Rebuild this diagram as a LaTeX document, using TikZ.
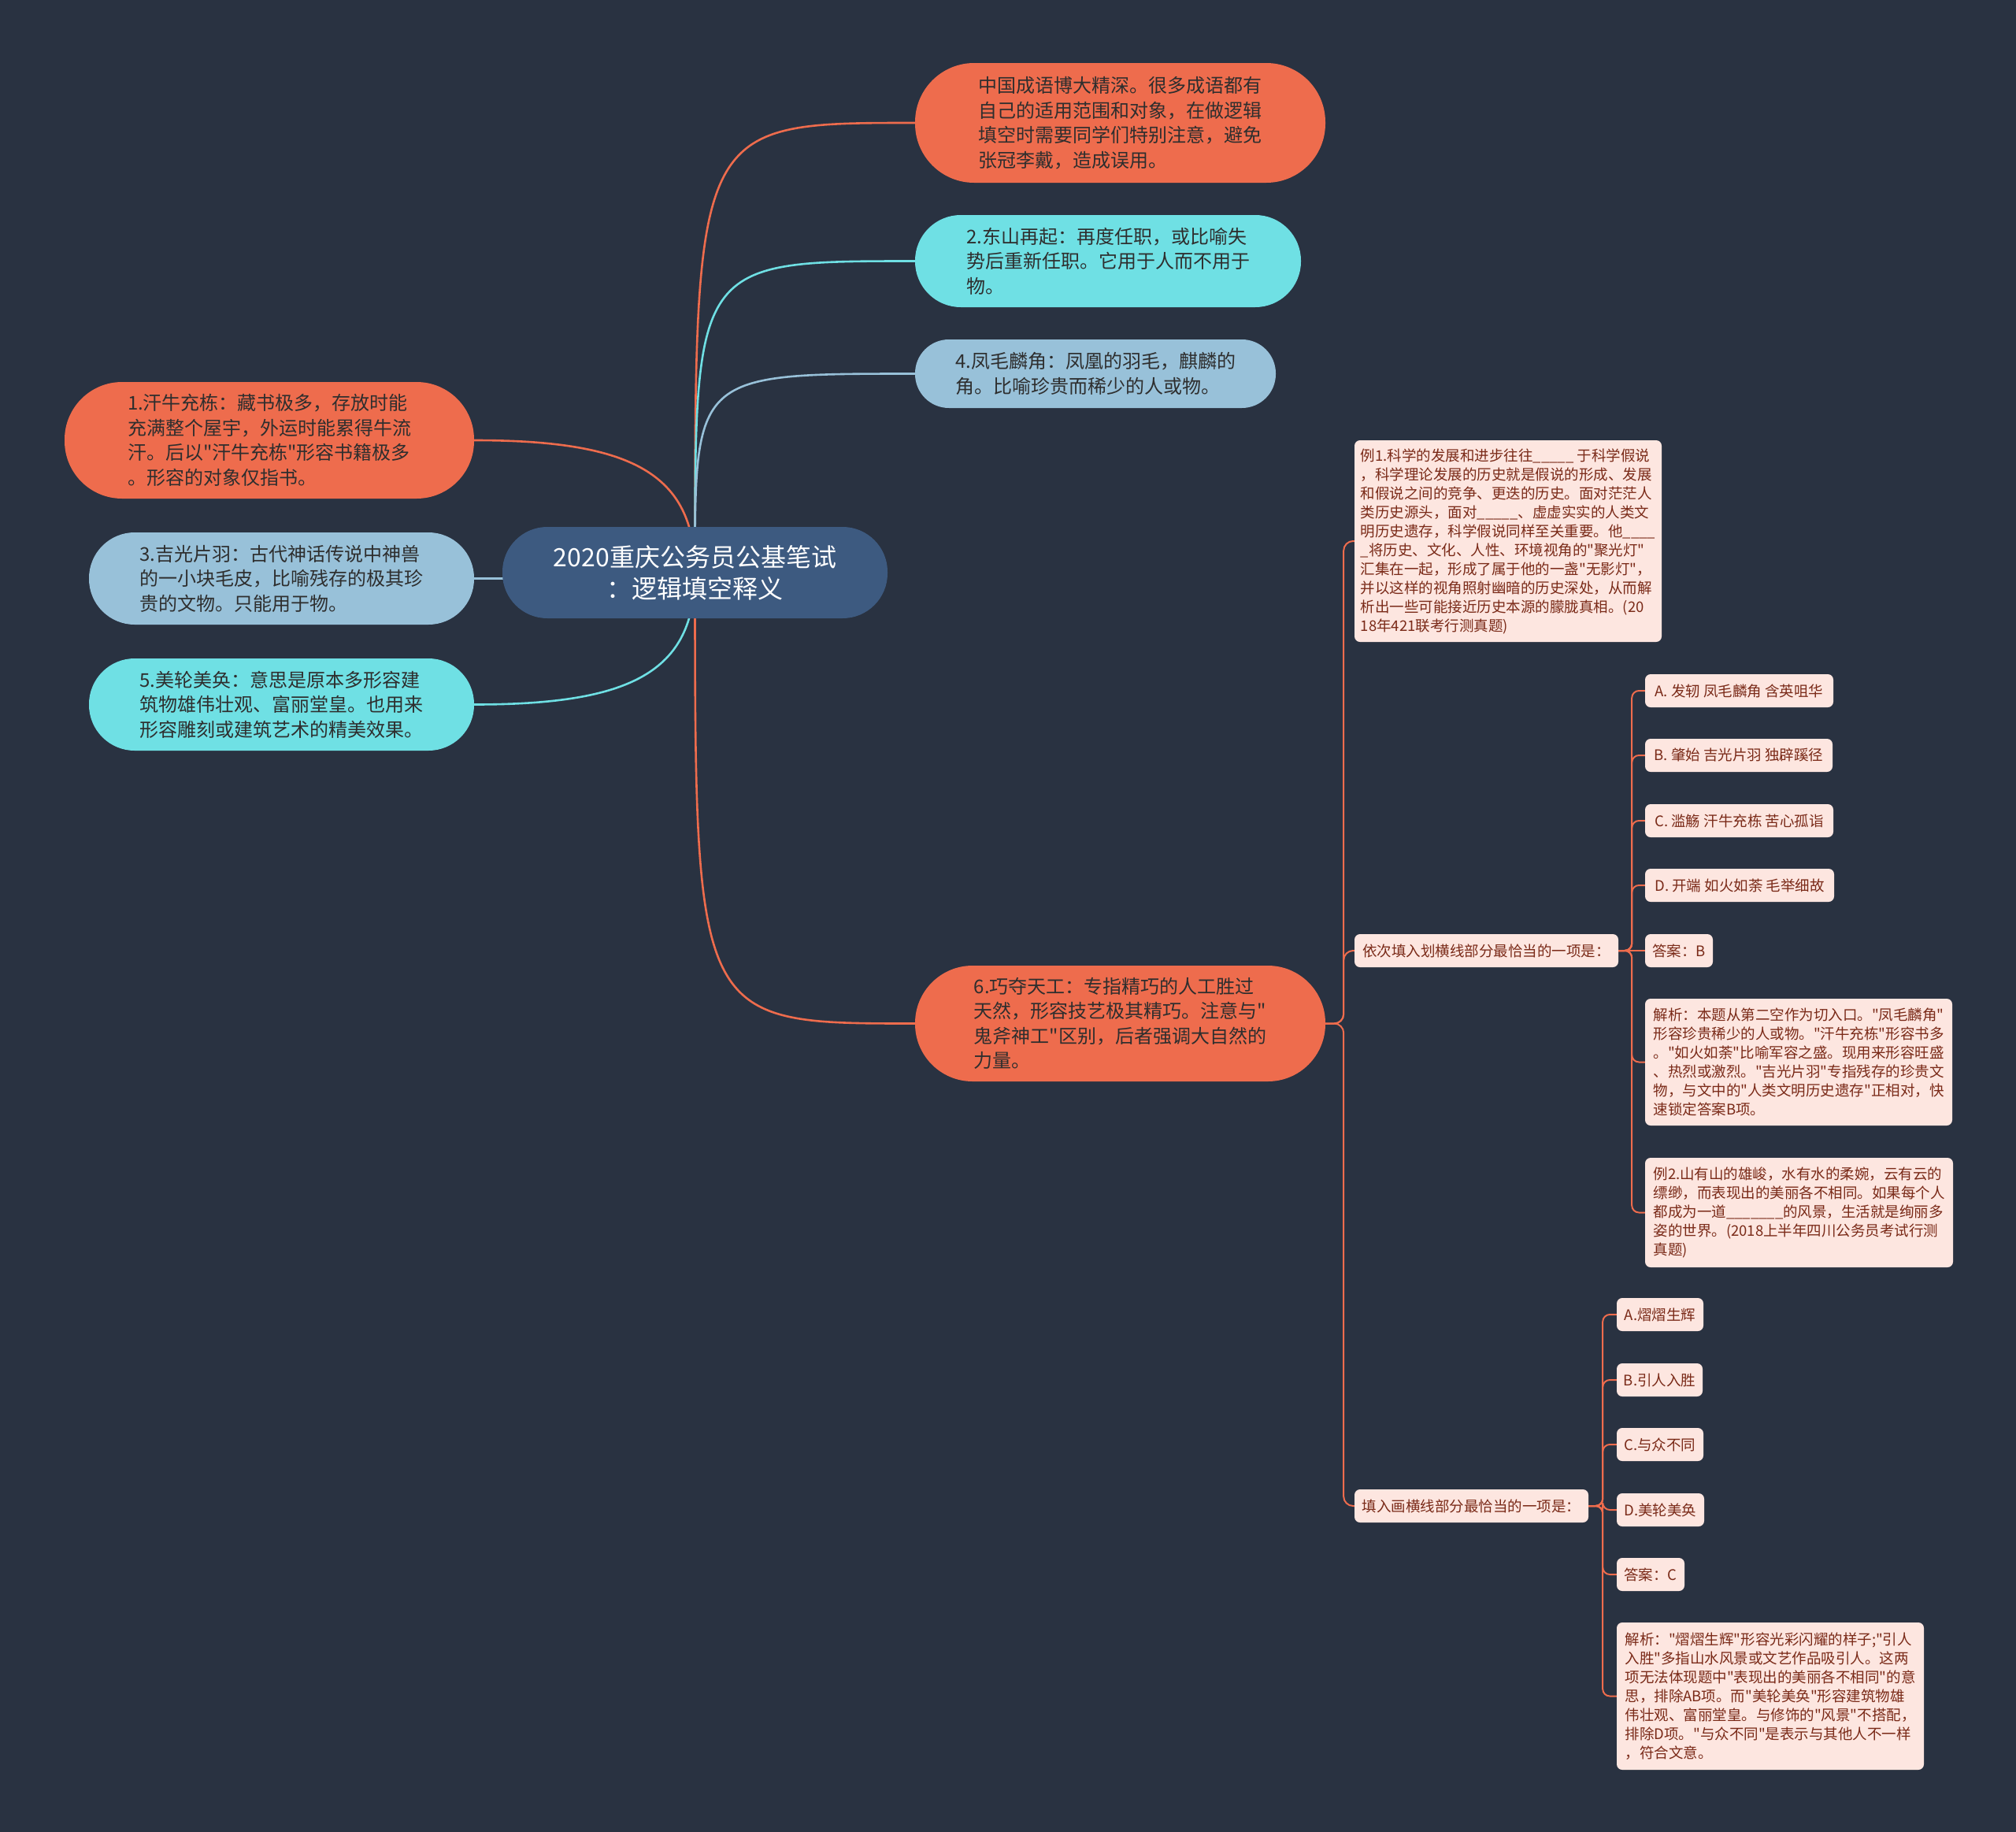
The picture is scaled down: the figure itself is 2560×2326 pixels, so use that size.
\documentclass[tikz,border=0pt]{standalone}
\usepackage{fontspec}
\newfontfamily\cjk{Noto Sans CJK SC}
\definecolor{bgc}{HTML}{293241}
\definecolor{orangec}{HTML}{EE6C4D}
\definecolor{cyanc}{HTML}{6FE0E4}
\definecolor{lbluec}{HTML}{98C1D9}
\definecolor{navyc}{HTML}{3D5A80}
\definecolor{pinkc}{HTML}{FDE6E0}
\definecolor{maroonc}{HTML}{7A2A18}
\definecolor{darktext}{HTML}{2E2E2E}
\pgfdeclarelayer{bglayer}
\pgfdeclarelayer{edgelayer}
\pgfsetlayers{bglayer,edgelayer,main}
\begin{document}
\begin{tikzpicture}[x=1pt,y=-1pt,
  pill/.style={draw=none, text=darktext, align=left, inner sep=0pt, font=\cjk\fontsize{24}{31.5}\selectfont},
  rootbox/.style={fill=navyc, text=white, align=center, inner sep=0pt, minimum width=489pt, minimum height=116pt, rounded corners=57pt, font=\cjk\fontsize{32}{40}\selectfont},
  leafbox/.style={fill=pinkc, text=maroonc, align=left, inner sep=0pt, rounded corners=7pt, minimum height=42pt, font=\cjk\fontsize{18.5}{24}\selectfont},
  mainline/.style={line width=2.6pt},
  subline/.style={draw=orangec, line width=2pt, rounded corners=9pt},
]
\useasboundingbox (0,0) rectangle (2560,2326);
\begin{pgfonlayer}{bglayer}
\fill[bgc] (0,0) rectangle (2560,2326);
\end{pgfonlayer}

% root
\node[rootbox] (c) at (882.5,727) {2020重庆公务员公基笔试\\：逻辑填空释义};

% right main branches
\node[pill, fill=orangec, minimum width=521pt, minimum height=152pt, rounded corners=75pt] (intro) at (1422.5,156)
 {中国成语博大精深。很多成语都有\\自己的适用范围和对象，在做逻辑\\填空时需要同学们特别注意，避免\\张冠李戴，造成误用。};
\node[pill, fill=cyanc, minimum width=490pt, minimum height=117pt, rounded corners=58pt] (n2) at (1407,331.5)
 {2.东山再起：再度任职，或比喻失\\势后重新任职。它用于人而不用于\\物。};
\node[pill, fill=lbluec, minimum width=458pt, minimum height=87pt, rounded corners=43pt] (n4) at (1391,474.5)
 {4.凤毛麟角：凤凰的羽毛，麒麟的\\角。比喻珍贵而稀少的人或物。};
\node[pill, fill=orangec, minimum width=521pt, minimum height=147pt, rounded corners=73pt] (n6) at (1422.5,1299.5)
 {6.巧夺天工：专指精巧的人工胜过\\天然，形容技艺极其精巧。注意与"\\鬼斧神工"区别，后者强调大自然的\\力量。};

% left main branches
\node[pill, fill=orangec, minimum width=520pt, minimum height=148pt, rounded corners=73pt] (n1) at (342,559)
 {1.汗牛充栋：藏书极多，存放时能\\充满整个屋宇，外运时能累得牛流\\汗。后以"汗牛充栋"形容书籍极多\\。形容的对象仅指书。};
\node[pill, fill=lbluec, minimum width=489pt, minimum height=117pt, rounded corners=58pt] (n3) at (357.5,734.5)
 {3.吉光片羽：古代神话传说中神兽\\的一小块毛皮，比喻残存的极其珍\\贵的文物。只能用于物。};
\node[pill, fill=cyanc, minimum width=489pt, minimum height=117pt, rounded corners=58pt] (n5) at (357.5,894.5)
 {5.美轮美奂：意思是原本多形容建\\筑物雄伟壮观、富丽堂皇。也用来\\形容雕刻或建筑艺术的精美效果。};

% sub-tree of n6
\node[leafbox, minimum width=390pt, minimum height=256pt] (ex1) at (1915,687)
 {例1.科学的发展和进步往往\_\_\_\_\_ 于科学假说\\，科学理论发展的历史就是假说的形成、发展\\和假说之间的竞争、更迭的历史。面对茫茫人\\类历史源头，面对\_\_\_\_\_、虚虚实实的人类文\\明历史遗存，科学假说同样至关重要。他\_\_\_\_\\\_将历史、文化、人性、环境视角的"聚光灯"\\汇集在一起，形成了属于他的一盏"无影灯"，\\并以这样的视角照射幽暗的历史深处，从而解\\析出一些可能接近历史本源的朦胧真相。(20\\18年421联考行测真题)};
\node[leafbox, minimum width=335pt] (lab1) at (1887.5,1207) {依次填入划横线部分最恰当的一项是：};
\node[leafbox, minimum width=297pt] (lab2) at (1868.5,1912) {填入画横线部分最恰当的一项是：};

\node[leafbox, minimum width=239pt] (oA) at (2208.5,877) {A. 发轫 凤毛麟角 含英咀华};
\node[leafbox, minimum width=238pt] (oB) at (2208,959) {B. 肇始 吉光片羽 独辟蹊径};
\node[leafbox, minimum width=239pt] (oC) at (2208.5,1042) {C. 滥觞 汗牛充栋 苦心孤诣};
\node[leafbox, minimum width=240pt] (oD) at (2209,1124) {D. 开端 如火如荼 毛举细故};
\node[leafbox, minimum width=86pt] (ans1) at (2132,1207) {答案：B};
\node[leafbox, minimum width=390pt, minimum height=161pt] (ana1) at (2284,1348.5)
 {解析：本题从第二空作为切入口。"凤毛麟角"\\形容珍贵稀少的人或物。"汗牛充栋"形容书多\\。"如火如荼"比喻军容之盛。现用来形容旺盛\\、热烈或激烈。"吉光片羽"专指残存的珍贵文\\物，与文中的"人类文明历史遗存"正相对，快\\速锁定答案B项。};
\node[leafbox, minimum width=391pt, minimum height=139pt] (ex2) at (2284.5,1539.5)
 {例2.山有山的雄峻，水有水的柔婉，云有云的\\缥缈，而表现出的美丽各不相同。如果每个人\\都成为一道\_\_\_\_\_\_\_的风景，生活就是绚丽多\\姿的世界。(2018上半年四川公务员考试行测\\真题)};

\node[leafbox, minimum width=110pt] (pA) at (2108,1669) {A.熠熠生辉};
\node[leafbox, minimum width=109pt] (pB) at (2107.5,1752) {B.引人入胜};
\node[leafbox, minimum width=110pt] (pC) at (2108,1834) {C.与众不同};
\node[leafbox, minimum width=111pt] (pD) at (2108.5,1917) {D.美轮美奂};
\node[leafbox, minimum width=86pt] (ans2) at (2096,1999) {答案：C};
\node[leafbox, minimum width=390pt, minimum height=187pt] (ana2) at (2248,2153.5)
 {解析："熠熠生辉"形容光彩闪耀的样子;"引人\\入胜"多指山水风景或文艺作品吸引人。这两\\项无法体现题中"表现出的美丽各不相同"的意\\思，排除AB项。而"美轮美奂"形容建筑物雄\\伟壮观、富丽堂皇。与修饰的"风景"不搭配，\\排除D项。"与众不同"是表示与其他人不一样\\，符合文意。};

% connectors
\begin{pgfonlayer}{edgelayer}
\draw[mainline, orangec] (c.center) .. controls (c.center |- intro.west) .. (intro.west);
\draw[mainline, cyanc] (c.center) .. controls (c.center |- n2.west) .. (n2.west);
\draw[mainline, lbluec] (c.center) .. controls (c.center |- n4.west) .. (n4.west);
\draw[mainline, orangec] (c.center) .. controls (c.center |- n6.west) .. (n6.west);
\draw[mainline, orangec] (c.center) .. controls +(0,-127) and +(198,0) .. (n1.east);
\draw[mainline, lbluec] (c.center) .. controls (c.center |- n3.east) .. (n3.east);
\draw[mainline, cyanc] (c.center) .. controls +(0,127) and +(198,0) .. (n5.east);

\draw[subline, rounded corners=12pt] (n6.east) -- ++(23,0) |- (ex1.west);
\draw[subline, rounded corners=12pt] (n6.east) -- ++(23,0) |- (lab1.west);
\draw[subline, rounded corners=12pt] (n6.east) -- ++(23,0) |- (lab2.west);
\foreach \t in {oA,oB,oC,oD,ana1,ex2}
  \draw[subline] (lab1.east) -- ++(17,0) |- (\t.west);
\draw[subline] (lab1.east) -- (ans1.west);
\foreach \t in {pA,pB,pC,pD,ans2,ana2}
  \draw[subline] (lab2.east) -- ++(18,0) |- (\t.west);
\end{pgfonlayer}
\end{tikzpicture}
\end{document}
